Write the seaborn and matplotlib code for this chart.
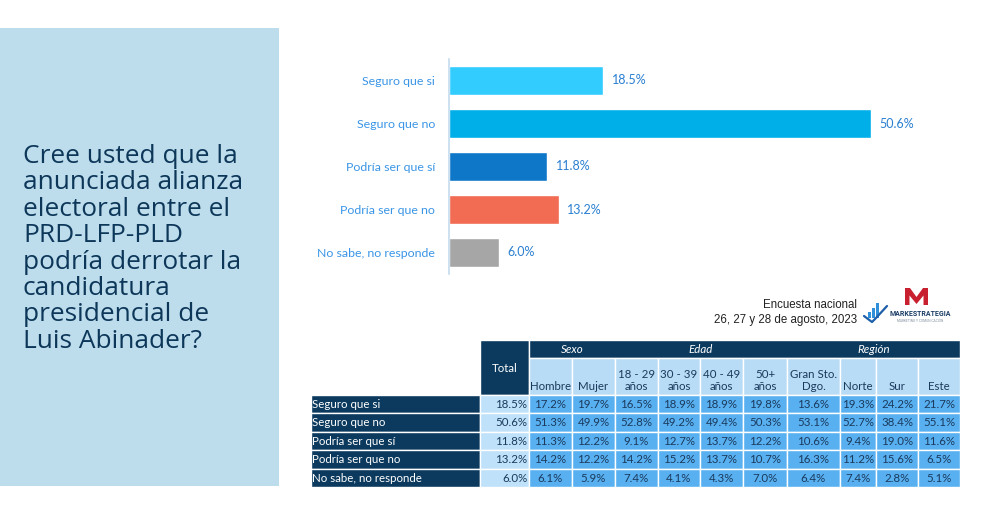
import matplotlib
matplotlib.use("Agg")
import matplotlib.pyplot as plt
from matplotlib.patches import Rectangle, Polygon
import seaborn as sns
import pandas as pd

# ---------------- data ----------------
categories = ["Seguro que si", "Seguro que no", "Podría ser que sí",
              "Podría ser que no", "No sabe, no responde"]
values = [18.5, 50.6, 11.8, 13.2, 6.0]
bar_colors = ["#33ccff", "#00afe8", "#0f77c8", "#f26b53", "#a6a6a6"]

title_lines = ["Cree usted que la", "anunciada alianza", "electoral entre el",
               "PRD-LFP-PLD", "podría derrotar la", "candidatura",
               "presidencial de", "Luis Abinader?"]

table_rows = ["Seguro que si", "Seguro que no", "Podría ser que sí",
              "Podría ser que no", "No sabe, no responde"]
table_cols = ["Total", "Hombre", "Mujer", "18 - 29\naños", "30 - 39\naños",
              "40 - 49\naños", "50+\naños", "Gran Sto.\nDgo.", "Norte", "Sur", "Este"]
group_labels = ["Sexo", "Edad", "Región"]
group_spans = [(1, 3), (3, 7), (7, 11)]
total_col = [18.5, 50.6, 11.8, 13.2, 6.0]
hombre = [17.2, 51.3, 11.3, 14.2, 6.1]
mujer = [19.7, 49.9, 12.2, 12.2, 5.9]
edad_18_29 = [16.5, 52.8, 9.1, 14.2, 7.4]
edad_30_39 = [18.9, 49.2, 12.7, 15.2, 4.1]
edad_40_49 = [18.9, 49.4, 13.7, 13.7, 4.3]
edad_50 = [19.8, 50.3, 12.2, 10.7, 7.0]
gran_sto_dgo = [13.6, 53.1, 10.6, 16.3, 6.4]
norte = [19.3, 52.7, 9.4, 11.2, 7.4]
sur = [24.2, 38.4, 19.0, 15.6, 2.8]
este = [21.7, 55.1, 11.6, 6.5, 5.1]
table_values = [total_col, hombre, mujer, edad_18_29, edad_30_39, edad_40_49,
                edad_50, gran_sto_dgo, norte, sur, este]

survey_lines = ["Encuesta nacional", "26, 27 y 28 de agosto, 2023"]

# ---------------- style ----------------
sns.set_theme(style="white")
plt.rcParams["font.family"] = ["Lato", "DejaVu Sans"]

W, H = 982, 527
fig = plt.figure(figsize=(W / 100, H / 100), dpi=100)
fig.patch.set_facecolor("white")

NAVY = "#0b3a5e"
LABEL_BLUE = "#3a95e6"
VALUE_BLUE = "#2a7fd0"

# overlay axes in pixel coordinates
ov = fig.add_axes([0, 0, 1, 1])
ov.set_xlim(0, W)
ov.set_ylim(H, 0)
ov.axis("off")

# left panel
ov.add_patch(Rectangle((0, 28), 279, 458, facecolor="#bddcec", edgecolor="none"))
for i, line in enumerate(title_lines):
    ov.text(23, 163 + i * 26.4, line, fontsize=18.9, color="#0d3759",
            va="baseline", ha="left", family=["Open Sans", "DejaVu Sans"])

# ---------------- bar chart ----------------
ax = fig.add_axes([449 / W, 1 - 274 / H, 500 / W, 215 / H])
df = pd.DataFrame({"cat": categories, "val": values})
sns.barplot(data=df, x="val", y="cat", hue="cat", palette=bar_colors,
            saturation=1, width=0.67, legend=False, ax=ax, orient="h")
ax.set_xlim(0, 60)
ax.set_ylim(4.5, -0.5)
ax.set_xlabel("")
ax.set_ylabel("")
ax.set_xticks([])
for s in ["top", "right", "bottom"]:
    ax.spines[s].set_visible(False)
ax.spines["left"].set_color("#c5dcef")
ax.spines["left"].set_linewidth(1.2)
ax.tick_params(axis="y", length=0, pad=10, labelsize=8.9, labelcolor=LABEL_BLUE)
ax.set_facecolor("none")
for c in ax.containers:
    ax.bar_label(c, fmt="%.1f%%", padding=6, fontsize=9, color=VALUE_BLUE)

# ---------------- survey note + logo ----------------
ov.text(857, 308, survey_lines[0], ha="right", va="baseline", fontsize=8.3,
        color="#222222", family=["Liberation Sans"])
ov.text(857, 323, survey_lines[1], ha="right", va="baseline", fontsize=8.3,
        color="#222222", family=["Liberation Sans"])
# logo: red M
ov.add_patch(Polygon([(905, 305), (905, 288), (910, 288), (916.5, 297), (923, 288),
                      (928, 288), (928, 305), (923.5, 305), (923.5, 295.5),
                      (916.5, 304), (909.5, 295.5), (909.5, 305)],
                     closed=True, facecolor="#c8202f", edgecolor="none"))
# logo: blue bars and arrow
for bx, bh in [(868, 6), (872, 10), (876, 15)]:
    ov.add_patch(Rectangle((bx, 318 - bh), 3, bh, facecolor="#2f8fd8", edgecolor="none"))
ov.plot([864, 872, 876, 887], [316, 322, 318, 306], color="#1d5fa8", lw=1.6,
        solid_capstyle="round")
ov.text(920.5, 316, "MARKESTRATEGIA", ha="center", va="baseline", fontsize=5,
        fontweight="bold", color="#1a3d66", family=["Roboto", "DejaVu Sans"])
ov.text(920.5, 322, "MARKETING Y COMUNICACIÓN", ha="center", va="baseline",
        fontsize=2.3, color="#8090a0", family=["Roboto", "DejaVu Sans"])

# ---------------- table ----------------
col_edges = [480, 529, 572, 615, 658, 700, 743, 787, 840, 876, 918, 960]
label_x0 = 311
row_edges = [395, 413, 431.5, 450, 468.5, 487]
hdr_top, hdr_mid, hdr_bot = 340, 358, 395
HDR_LIGHT = "#b9dcf6"
TOT_LIGHT = "#bfe1f9"
CELL = "#58b0f1"
TXT = "#1b3a5c"
fs_tab = 8.3

# total header
ov.add_patch(Rectangle((col_edges[0], hdr_top), col_edges[1] - col_edges[0],
                       hdr_bot - hdr_top, facecolor=NAVY, edgecolor="white", lw=1))
ov.text((col_edges[0] + col_edges[1]) / 2, 368, table_cols[0], ha="center",
        va="center", fontsize=fs_tab, color="white")
# group header band
ov.add_patch(Rectangle((col_edges[1], hdr_top), col_edges[-1] - col_edges[1],
                       hdr_mid - hdr_top, facecolor=NAVY, edgecolor="white", lw=1))
for g, (a, b) in zip(group_labels, group_spans):
    ov.text((col_edges[a] + col_edges[b]) / 2, (hdr_top + hdr_mid) / 2 + 0.5, g,
            ha="center", va="center", fontsize=fs_tab, color="white", style="italic")
# sub headers
for j in range(1, len(table_cols)):
    x0, x1 = col_edges[j], col_edges[j + 1]
    ov.add_patch(Rectangle((x0, hdr_mid), x1 - x0, hdr_bot - hdr_mid,
                           facecolor=HDR_LIGHT, edgecolor="white", lw=1))
    ov.text((x0 + x1) / 2, hdr_bot - 3, table_cols[j], ha="center", va="bottom",
            fontsize=fs_tab, color=TXT, linespacing=1.15)
# rows
for i, lab in enumerate(table_rows):
    y0, y1 = row_edges[i], row_edges[i + 1]
    ov.add_patch(Rectangle((label_x0, y0), col_edges[0] - label_x0, y1 - y0,
                           facecolor=NAVY, edgecolor="white", lw=1))
    ov.text(label_x0 + 1.5, (y0 + y1) / 2 + 0.5, lab, ha="left", va="center",
            fontsize=fs_tab, color="white")
    for j, col in enumerate(table_values):
        x0, x1 = col_edges[j], col_edges[j + 1]
        ov.add_patch(Rectangle((x0, y0), x1 - x0, y1 - y0,
                               facecolor=TOT_LIGHT if j == 0 else CELL,
                               edgecolor="white", lw=1))
        txt = f"{col[i]:.1f}%"
        if j == 0:
            ov.text(x1 - 1.5, (y0 + y1) / 2 + 0.5, txt, ha="right", va="center",
                    fontsize=fs_tab, color=TXT)
        else:
            ov.text((x0 + x1) / 2, (y0 + y1) / 2 + 0.5, txt, ha="center",
                    va="center", fontsize=fs_tab, color=TXT)

fig.savefig("out.png", dpi=100, facecolor="white")
